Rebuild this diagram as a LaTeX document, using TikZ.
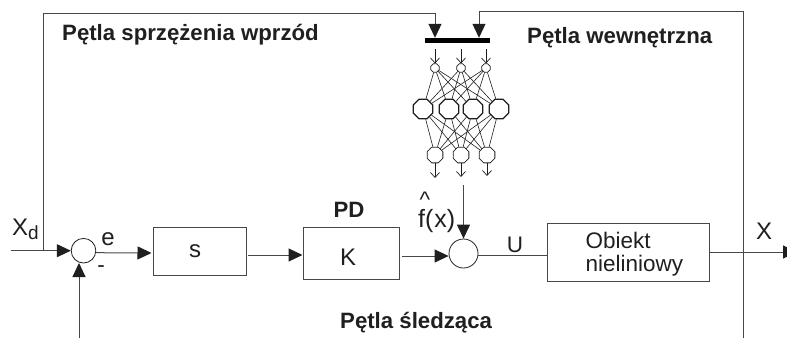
\documentclass[tikz,border=0pt]{standalone}
\usepackage{fontspec}
\setmainfont{Liberation Sans}
\usetikzlibrary{arrows.meta,shapes.geometric}
\definecolor{ink}{gray}{0.12}
\definecolor{wire}{gray}{0.28}
\newcommand{\fsz}[1]{\fontsize{#1}{#1}\selectfont}
\tikzset{
  x=1pt,y=-1pt,
  wireline/.style={draw=wire,line width=1pt},
  arr/.style={wireline,-{Triangle[length=14pt,width=13pt,color=ink]}},
  block/.style={draw=wire,line width=1pt,rectangle,inner sep=0pt},
  sumnode/.style={draw=ink,line width=0.8pt,circle,inner sep=0pt},
  lab/.style={inner sep=0pt,text=ink,font=\fsz{22.5}},
  biglab/.style={inner sep=0pt,text=ink,font=\fsz{24}},
  boldlab/.style={inner sep=0pt,text=ink,font=\fsz{22.2}\bfseries},
  neuron/.style={draw=ink,regular polygon,regular polygon sides=8,inner sep=0pt,line width=0.8pt},
  small/.style={neuron,minimum size=9pt},
  hidden/.style={neuron,minimum size=21pt,line width=1.2pt},
  outn/.style={neuron,minimum size=17pt},
  net/.style={draw=ink,line width=0.6pt},
  tiny/.style={draw=ink,line width=0.7pt,-{Straight Barb[length=5pt,width=9pt]}}
}
\begin{document}
\begin{tikzpicture}
\useasboundingbox (0,0) rectangle (787,338);
% blocks
\node[block,minimum width=93pt,minimum height=48pt] (s) at (199.5,251) {};
\node[block,minimum width=96pt,minimum height=52pt] (k) at (351,253) {};
\node[block,minimum width=162pt,minimum height=58pt] (obj) at (628,252) {};
\node[sumnode,minimum size=24.6pt] (sa) at (83.5,250.7) {};
\node[sumnode,minimum size=29pt] (sb) at (463.5,253.5) {};
\node[fill=black,inner sep=0pt,minimum width=65pt,minimum height=5pt] (bar) at (457.5,40.5) {};
% network
\node[small] (i1) at (435,68) {};
\node[small] (i2) at (461,68) {};
\node[small] (i3) at (486,68) {};
\node[hidden] (h1) at (423,109) {};
\node[hidden] (h2) at (449,109) {};
\node[hidden] (h3) at (473,109) {};
\node[hidden] (h4) at (499,109) {};
\node[outn] (o1) at (435,155) {};
\node[outn] (o2) at (461,155) {};
\node[outn] (o3) at (487,155) {};
\foreach \a in {i1,i2,i3}\foreach \b in {h1,h2,h3,h4}\draw[net] (\a) -- (\b);
\foreach \a in {h1,h2,h3,h4}\foreach \b in {o1,o2,o3}\draw[net] (\a) -- (\b);
\coordinate (t1) at (435,49);
\coordinate (t2) at (461,49);
\coordinate (t3) at (486,49);
\coordinate (b1) at (435,178);
\coordinate (b2) at (461,177);
\coordinate (b3) at (487,176);
\draw[tiny] (t1) -- (i1);
\draw[tiny] (t2) -- (i2);
\draw[tiny] (t3) -- (i3);
\draw[tiny] (o1) -- (b1);
\draw[tiny] (o2) -- (b2);
\draw[tiny] (o3) -- (b3);
% wiring
\coordinate (in) at (11,250.7);
\coordinate (jl) at (43,250.7);
\coordinate (tl) at (43,13);
\coordinate (tm) at (435,13);
\coordinate (fb) at (79,338);
\coordinate (fbt) at (79,263);
\coordinate (rb) at (743,338);
\coordinate (rt) at (743,11);
\coordinate (rm) at (479,11);
\coordinate (nn) at (463.5,185);
\coordinate (out) at (797,252);
\draw[arr] (in) -- (sa.west);
\draw[wireline] (jl) -- (tl) -- (tm);
\draw[arr] (tm) -- (tm |- bar.north);
\draw[wireline] (rb) -- (rt) -- (rm);
\draw[arr] (rm) -- (rm |- bar.north);
\draw[arr] (fb) -- (fbt);
\draw[arr] ([yshift=-2pt]sa.east) -- ([yshift=-2pt,xshift=-1pt]s.west);
\draw[arr] ([yshift=-4pt,xshift=1.5pt]s.east) -- ([yshift=-2pt]k.west);
\draw[arr] ([yshift=-3pt,xshift=2pt]k.east) -- ([yshift=-2.5pt]sb.west);
\draw[wireline] ([yshift=-1.5pt]sb.east) -- ([yshift=-3pt]obj.west);
\draw[arr] (obj.east) -- (out);
\draw[arr] (nn) -- (sb.north);
% labels
\node[boldlab,anchor=base west] (l1) at (62,40) {Pętla sprzężenia wprzód};
\node[boldlab,anchor=base west] (l2) at (527,43) {Pętla wewnętrzna};
\node[boldlab,anchor=base] (l3) at (349,217) {PD};
\node[boldlab,anchor=base west] (l4) at (340,328) {Pętla śledząca};
\node[biglab,anchor=base west] (xd) at (12,235) {X\raisebox{-4pt}{\fsz{19}d}};
\node[biglab,anchor=base] (le) at (108,245) {e};
\node[lab,anchor=base] (lm) at (101,272) {-};
\node[biglab,anchor=base] (ls) at (195,257) {s};
\node[biglab,anchor=base] (lk) at (348,265) {K};
\node[inner sep=0pt,text=ink,font=\fsz{25},anchor=base west] (lf) at (418,227) {\rlap{\kern1.5pt\raisebox{19.5pt}{\fsz{22.5}\textasciicircum}}f(\kern1pt x)};
\node[lab,anchor=base] (lu) at (515,252) {U};
\node[lab,anchor=base west] (o) at (585.5,248) {Obiekt};
\node[lab,anchor=base west] (n) at (585.5,271) {nieliniowy};
\node[biglab,anchor=base] (lx) at (764,239) {X};
\end{tikzpicture}
\end{document}
